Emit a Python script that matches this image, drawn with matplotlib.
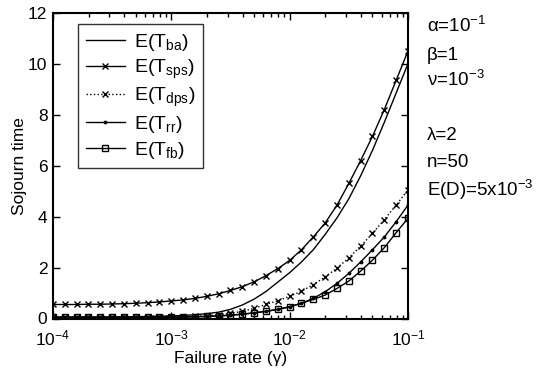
import numpy as np
import matplotlib
matplotlib.use('Agg')
import matplotlib.pyplot as plt
from matplotlib.ticker import LogLocator, NullFormatter, LogFormatterMathtext

plt.rcParams['font.family'] = ['Liberation Sans', 'DejaVu Sans']
plt.rcParams['mathtext.fontset'] = 'custom'
plt.rcParams['mathtext.rm'] = 'Liberation Sans'
plt.rcParams['mathtext.it'] = 'Liberation Sans'
plt.rcParams['mathtext.bf'] = 'Liberation Sans:bold'

# x grid: failure rate, 10 points per decade from 1e-4 to 1e-1
gamma = np.logspace(-4, -1, 31)

T_ba = [0.05, 0.05, 0.05, 0.05, 0.05, 0.06, 0.06, 0.07, 0.08, 0.09,
        0.10, 0.12, 0.15, 0.19, 0.25, 0.36, 0.53, 0.76, 1.06, 1.43,
        1.80, 2.22, 2.70, 3.30, 3.95, 4.70, 5.60, 6.60, 7.70, 8.85, 10.0]
T_sps = [0.55, 0.55, 0.55, 0.56, 0.56, 0.57, 0.58, 0.60, 0.62, 0.65,
         0.69, 0.73, 0.79, 0.87, 0.97, 1.10, 1.25, 1.44, 1.68, 1.96,
         2.28, 2.70, 3.20, 3.75, 4.45, 5.30, 6.20, 7.15, 8.20, 9.35, 10.50]
T_dps = [0.05, 0.05, 0.05, 0.05, 0.05, 0.05, 0.05, 0.05, 0.05, 0.05,
         0.06, 0.07, 0.09, 0.11, 0.15, 0.20, 0.28, 0.40, 0.55, 0.70,
         0.87, 1.07, 1.33, 1.63, 1.98, 2.38, 2.84, 3.34, 3.88, 4.45, 5.05]
T_rr = [0.05, 0.05, 0.05, 0.05, 0.05, 0.05, 0.05, 0.05, 0.05, 0.05,
        0.05, 0.06, 0.07, 0.08, 0.10, 0.13, 0.17, 0.22, 0.28, 0.36,
        0.46, 0.60, 0.79, 1.05, 1.38, 1.77, 2.22, 2.70, 3.20, 3.80, 4.45]
T_fb = [0.05, 0.05, 0.05, 0.05, 0.05, 0.05, 0.05, 0.05, 0.05, 0.05,
        0.05, 0.06, 0.07, 0.08, 0.10, 0.13, 0.17, 0.22, 0.28, 0.36,
        0.46, 0.60, 0.75, 0.92, 1.18, 1.47, 1.86, 2.29, 2.78, 3.37, 3.93]

labels = [r'E(T$_{\rm ba}$)', r'E(T$_{\rm sps}$)', r'E(T$_{\rm dps}$)',
          r'E(T$_{\rm rr}$)', r'E(T$_{\rm fb}$)']
params_text = ['α=10$^{-1}$', 'β=1', 'ν=10$^{-3}$',
               'λ=2', 'n=50', 'E(D)=5x10$^{-3}$']

fig = plt.figure(figsize=(5.38, 3.78), dpi=100)
ax = fig.add_axes([53/538, 1-318.5/378, 355/538, (318.5-12.7)/378])

lw = 1.0
ax.plot(gamma, T_ba, '-', color='black', lw=lw, label=labels[0])
ax.plot(gamma, T_sps, '-', color='black', lw=lw, marker='x', ms=5, mew=1.0, label=labels[1])
ax.plot(gamma, T_dps, ':', color='black', lw=lw, marker='x', ms=5, mew=1.0, label=labels[2])
ax.plot(gamma, T_rr, '-', color='black', lw=lw, marker='.', ms=3.5, label=labels[3])
ax.plot(gamma, T_fb, '-', color='black', lw=lw, marker='s', ms=3.8, mew=1.0, mfc='none', label=labels[4])

ax.set_xscale('log')
ax.set_xlim(1e-4, 1e-1)
ax.set_ylim(0, 12)
ax.set_yticks([0, 2, 4, 6, 8, 10, 12])
ax.xaxis.set_major_locator(LogLocator(base=10, numticks=10))
ax.xaxis.set_major_formatter(LogFormatterMathtext())
ax.xaxis.set_minor_locator(LogLocator(base=10, subs=np.arange(2, 10), numticks=20))
ax.xaxis.set_minor_formatter(NullFormatter())
ax.tick_params(which='both', direction='in', top=True, right=True, labelsize=12.5, width=1.0)
ax.tick_params(which='major', length=5)
ax.tick_params(axis='x', which='major', pad=7)
ax.tick_params(axis='y', which='major', pad=4)
ax.tick_params(which='minor', length=3)
for s in ax.spines.values():
    s.set_linewidth(1.5)

ax.set_xlabel('Failure rate (γ)', fontsize=12.5, labelpad=2)
ax.set_ylabel('Sojourn time', fontsize=12.5, labelpad=1)

leg = ax.legend(loc='upper left', bbox_to_anchor=(0.07, 0.963), borderaxespad=0,
                fontsize=14, frameon=True, fancybox=False, edgecolor='black',
                handlelength=2.0, labelspacing=0.25, borderpad=0.4, handletextpad=0.5)
leg.get_frame().set_linewidth(1.0)

ys = [26, 55, 80, 136, 163, 190]
for t, y in zip(params_text, ys):
    fig.text(427/538, 1 - y/378, t, fontsize=13.5, va='center', ha='left')

fig.savefig('out.png', dpi=100)
